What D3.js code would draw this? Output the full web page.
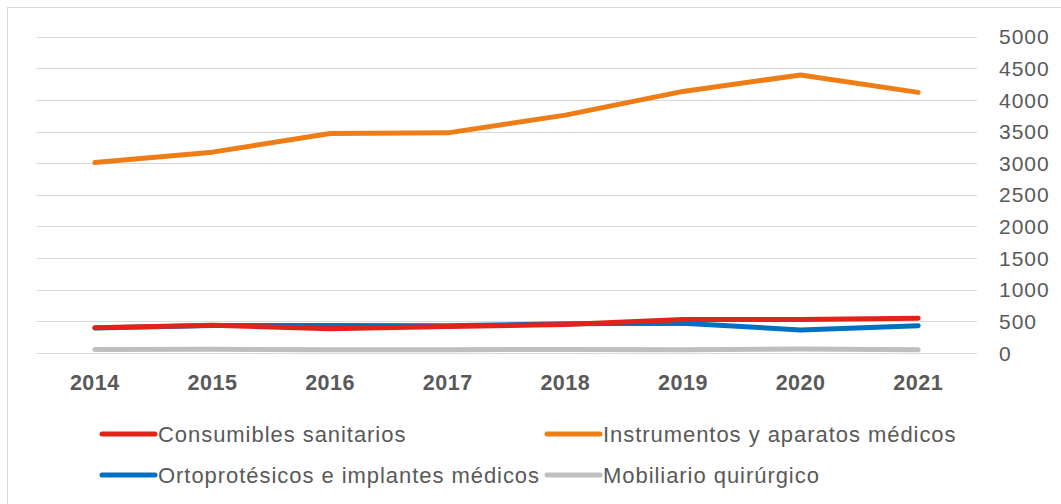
<!DOCTYPE html>
<html>
<head>
<meta charset="UTF-8">
<script src="https://d3js.org/d3.v7.min.js"></script>
<style>
  body { margin: 0; background: #fff; }
  svg text { font-family: "Liberation Sans", Arial, sans-serif; fill: #595959; }
</style>
</head>
<body>
<svg id="canvas"></svg>
<script>
const years = ["2014", "2015", "2016", "2017", "2018", "2019", "2020", "2021"];
const consumibles = [400, 440, 385, 420, 450, 530, 530, 548];
const instrumentos = [3010, 3175, 3470, 3480, 3760, 4135, 4395, 4120];
const ortoproteticos = [395, 435, 435, 430, 462, 470, 365, 432];
const mobiliario = [55, 60, 50, 52, 55, 50, 62, 52];
const yTicks = [0, 500, 1000, 1500, 2000, 2500, 3000, 3500, 4000, 4500, 5000];

const series = [
  { name: "Consumibles sanitarios", values: consumibles, color: "#e2231a" },
  { name: "Instrumentos y aparatos médicos", values: instrumentos, color: "#ef7d16" },
  { name: "Ortoprotésicos e implantes médicos", values: ortoproteticos, color: "#0070c0" },
  { name: "Mobiliario quirúrgico", values: mobiliario, color: "#c0bfbf" }
];

const width = 1061, height = 504;
const svg = d3.select("#canvas").attr("width", width).attr("height", height);

// chart frame (only left/top edges visible in the window)
svg.append("rect")
  .attr("x", 7.5).attr("y", 7.5)
  .attr("width", 1100).attr("height", 520)
  .attr("fill", "#fff").attr("stroke", "#d9d9d9");

const x = d3.scaleBand().domain(years).range([36, 977]);
const y = d3.scaleLinear().domain([0, 5000]).range([353, 36.7]);

// grid
svg.append("g").selectAll("line")
  .data(yTicks).enter().append("line")
  .attr("x1", 36).attr("x2", 977)
  .attr("y1", d => Math.round(y(d)) + 0.5)
  .attr("y2", d => Math.round(y(d)) + 0.5)
  .attr("stroke", "#d9d9d9").attr("stroke-width", 1.2);

// y labels on right
svg.append("g").selectAll("text")
  .data(yTicks).enter().append("text")
  .attr("x", 999).attr("y", d => y(d))
  .attr("dy", "0.36em")
  .style("font-size", "21px").style("letter-spacing", "1px")
  .text(d => d);

// x labels
svg.append("g").selectAll("text")
  .data(years).enter().append("text")
  .attr("x", d => x(d) + x.bandwidth() / 2)
  .attr("y", 390)
  .attr("text-anchor", "middle")
  .style("font-size", "21.5px").style("font-weight", "bold")
  .style("letter-spacing", "0.5px")
  .text(d => d);

const line = d3.line()
  .x((d, i) => x(years[i]) + x.bandwidth() / 2)
  .y(d => y(d));

// draw gray first, then blue, red, orange on top
[3, 2, 0, 1].forEach(i => {
  svg.append("path")
    .datum(series[i].values)
    .attr("d", line)
    .attr("fill", "none")
    .attr("stroke", series[i].color)
    .attr("stroke-width", 5)
    .attr("stroke-linecap", "round")
    .attr("stroke-linejoin", "round");
});

// legend
const legendPos = [[100, 434], [545, 434], [100, 475], [545, 475]];
series.forEach((s, i) => {
  const g = svg.append("g").attr("transform", `translate(${legendPos[i][0]},${legendPos[i][1]})`);
  g.append("line")
    .attr("x1", 2).attr("x2", 55)
    .attr("stroke", s.color).attr("stroke-width", 5)
    .attr("stroke-linecap", "round");
  g.append("text")
    .attr("x", 58).attr("dy", "0.36em")
    .style("font-size", "22px").style("letter-spacing", "0.95px")
    .text(s.name);
});
</script>
</body>
</html>
